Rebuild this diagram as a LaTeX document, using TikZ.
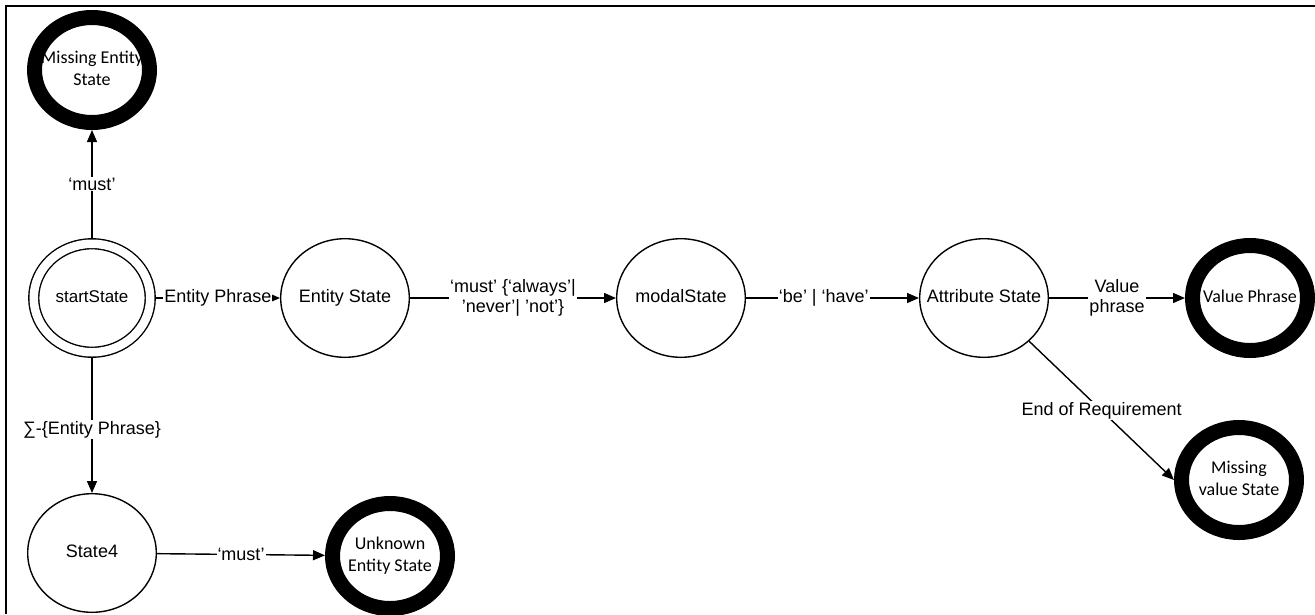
\documentclass[tikz,border=0pt]{standalone}
\usepackage{fontspec}
\setmainfont{Liberation Sans}
\newfontfamily\calfont{Carlito}
\usetikzlibrary{shapes.geometric,arrows.meta}

% state text that does not widen the ellipse around it
\newcommand\stlabel[1]{\makebox[0pt]{\begin{tabular}{@{}c@{}}#1\end{tabular}}}

\begin{document}
\begin{tikzpicture}[x=1pt,y=-1pt,
  state/.style={ellipse,draw,line width=1.4pt,minimum width=128.6pt,minimum height=118.6pt,
    inner sep=0pt,font=\fontsize{18}{21}\selectfont},
  final/.style={ellipse,draw,line width=15pt,minimum width=115pt,minimum height=105pt,
    inner sep=0pt,font=\calfont\fontsize{18}{22}\selectfont},
  startst/.style={ellipse,draw,line width=1.4pt,double,double distance=8.5pt,
    minimum width=116.5pt,minimum height=108.5pt,inner sep=0pt,outer sep=5.65pt,
    font=\fontsize{17}{20}\selectfont},
  trans/.style={line width=1.4pt,-{Triangle[length=12pt,width=10pt]}},
  lab/.style={fill=white,inner sep=1pt,font=\fontsize{18}{20}\selectfont,align=center}]

\useasboundingbox (0,0) rectangle (1315,614);

% frame
\draw[line width=2pt] (6,614) -- (6,6) -- (1315,6);

% states
\node[final] (mes) at (92,70) {\stlabel{Missing Entity\\State}};
\node[startst] (start) at (92,298) {\stlabel{startState}};
\node[state] (ent) at (345,298) {\stlabel{Entity State}};
\node[state] (modal) at (681,298) {\stlabel{modalState}};
\node[state] (attr) at (984,298) {\stlabel{Attribute State}};
\node[final] (vp) at (1250,298) {\stlabel{Value Phrase}};
\node[final] (mvs) at (1239,480) {\stlabel{Missing\\value State}};
\node[state] (s4) at (92,553) {\stlabel{State4}};
\node[final] (ues) at (390,556) {\stlabel{Unknown\\Entity State}};

% transitions
\draw[trans] (start) -- (mes) node[lab,midway] {‘must’};
\draw[trans] (start) -- (ent) node[lab,midway] {Entity Phrase};
\draw[trans] (ent) -- (modal) node[lab,midway] {‘must’ \{‘always’|\\’never’| ’not’\}};
\draw[trans] (modal) -- (attr) node[lab,pos=0.45] {‘be’ | ‘have’};
\draw[trans] (attr) -- (vp) node[lab,midway] {Value\\phrase};
\draw[trans] (attr) -- (mvs.west) node[lab,midway] {End of Requirement};
\draw[trans] (start) -- (s4) node[lab,pos=0.53] {∑-\{Entity Phrase\}};
\draw[trans] (s4) -- (ues) node[lab,midway] {‘must’};

\end{tikzpicture}
\end{document}
